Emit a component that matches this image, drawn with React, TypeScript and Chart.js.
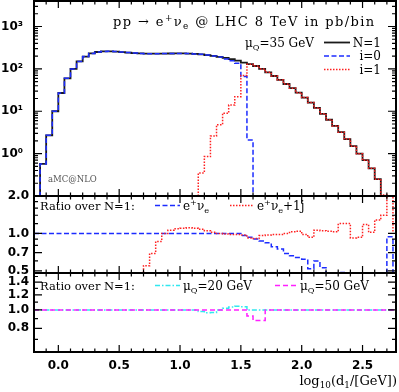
import React, { useEffect, useRef } from 'react';
import { Chart, registerables } from 'chart.js';

Chart.register(...registerables);

// ---------- data ----------
const binEdges = [
  -0.2, -0.15, -0.1, -0.05, 0.0, 0.05, 0.1, 0.15, 0.2, 0.25,
  0.3, 0.35, 0.4, 0.45, 0.5, 0.55, 0.6, 0.65, 0.7, 0.75,
  0.8, 0.85, 0.9, 0.95, 1.0, 1.05, 1.1, 1.15, 1.2, 1.25,
  1.3, 1.35, 1.4, 1.45, 1.5, 1.55, 1.6, 1.65, 1.7, 1.75,
  1.8, 1.85, 1.9, 1.95, 2.0, 2.05, 2.1, 2.15, 2.2, 2.25,
  2.3, 2.35, 2.4, 2.45, 2.5, 2.55, 2.6, 2.65, 2.7, 2.75, 2.8,
];

// top panel (pb/bin)
const nOne = [
  null, 0.57, 2.7, 10, 27, 60, 100, 150, 195, 232,
  250, 258, 260, 256, 249, 242, 236, 232, 229, 228,
  229, 230, 231, 232, 232, 230, 226, 220, 212, 202,
  192, 181, 170, 157, 140, 130, 117, 100, 83, 68,
  55, 44, 35, 27.5, 21, 16, 12, 8.7, 6.3, 4.5,
  3.2, 2.2, 1.5, 1.0, 0.7, 0.45, 0.25, null, null, null,
];
const iZero = [
  null, 0.57, 2.7, 10, 27, 60, 100, 150, 195, 232,
  250, 258, 260, 256, 249, 242, 236, 232, 229, 228,
  229, 230, 231, 232, 232, 230, 226, 220, 212, 202,
  192, 172, 156, 135, 66, 2.1, null, null, null, null,
  null, null, null, null, null, null, null, null, null, null,
  null, null, null, null, null, null, null, null, null, null,
];
const iOne = [
  null, null, null, null, null, null, null, null, null, null,
  null, null, null, null, null, null, null, null, null, null,
  null, null, null, null, null, null, null, 0.35, 0.85, 2.6,
  4.8, 9, 14, 22, 70, 128, 117, 100, 83, 68,
  55, 44, 35, 27.5, 21, 16, 12, 8.7, 6.3, 4.5,
  3.2, 2.2, 1.5, 1.0, 0.7, 0.45, 0.25, 0.105, 0.102, null,
];

// middle panel (ratio over N=1)
const ratioEnu = [
  1, 1, 1, 1, 1, 1, 1, 1, 1, 1,
  1, 1, 1, 1, 1, 1, 1, 1, 1, 1,
  1, 1, 1, 1, 1, 1, 1, 1, 1, 1,
  1, 1, 1, 1, 0.96, 0.93, 0.9, 0.87, 0.84, 0.78,
  0.75, 0.69, 0.66, 0.64, 0.62, 0.52, 0.6, 0.53, null, null,
  0.485, null, null, null, null, null, null, null, 0.94, null,
];
const ratioEnu1j = [
  null, null, null, null, null, null, null, null, null, null,
  null, null, null, null, null, null, null, null, 0.55, 0.69,
  0.86, 1.0, 1.06, 1.09, 1.1, 1.11, 1.1, 1.08, 1.05, 1.02,
  1.0, 0.99, 0.98, 0.98, 0.97, 0.92, 0.91, 0.96, 0.97, 0.98,
  0.98, 1.0, 1.03, 1.04, 0.98, 0.93, 1.06, 1.05, 1.04, 1.03,
  1.2, 1.2, 0.92, 0.93, 1.18, 1.02, 1.28, 1.4, 2.05, 1.05,
];

// bottom panel (ratio over N=1)
const ratioMu20 = [
  1, 1, 1, 1, 1, 1, 1, 1, 1, 1,
  1, 1, 1, 1, 1, 1, 1, 1, 1, 1,
  1, 1, 1, 1, 1, 1, 1, 0.98, 0.965, 0.97,
  1.0, 1.02, 1.035, 1.045, 1.04, 1, 1, 1, 1, 1,
  1, 1, 1, 1, 1, 1, 1, 1, 1, 1,
  1, 1, 1, 1, 1, 1, 1, 1, 1, 1,
];
const ratioMu50 = [
  1, 1, 1, 1, 1, 1, 1, 1, 1, 1,
  1, 1, 1, 1, 1, 1, 1, 1, 1, 1,
  1, 1, 1, 1, 1, 1, 1, 1, 1, 1,
  1, 1, 1, 1, 1, 0.93, 0.88, 0.88, 1, 1,
  1, 1, 1, 1, 1, 1, 1, 1, 1, 1,
  1, 1, 1, 1, 1, 1, 1, 1, 1, 1,
];

// ticks
const xTickValues = [0, 0.5, 1, 1.5, 2, 2.5];
const xMinorTicks = [-0.1, 0.1, 0.2, 0.3, 0.4, 0.6, 0.7, 0.8, 0.9, 1.1, 1.2, 1.3, 1.4, 1.6, 1.7, 1.8, 1.9, 2.1, 2.2, 2.3, 2.4, 2.6, 2.7];
const topTickValues = [1, 10, 100, 1000];
const topTickLabels = ['10\u2070', '10\u00B9', '10\u00B2', '10\u00B3'];
const topMinorTicks = [0.2, 0.3, 0.4, 0.5, 0.6, 0.7, 0.8, 0.9, 2, 3, 4, 5, 6, 7, 8, 9, 20, 30, 40, 50, 60, 70, 80, 90, 200, 300, 400, 500, 600, 700, 800, 900, 2000, 3000];
const midTickValues = [0.5, 0.7, 1.0, 2.0];
const midTickLabels = ['0.5', '0.7', '1.0', '2.0'];
const midMinorTicks = [0.6, 0.8, 0.9, 1.2, 1.4, 1.6, 1.8];
const botTickValues = [0.8, 1.0, 1.2, 1.4];
const botTickLabels = ['0.8', '1.0', '1.2', '1.4'];
const botMinorTicks = [0.7, 0.9, 1.1, 1.3, 1.5];

// text
type Seg = [string, number];
const titleText: Seg[] = [['pp \u2192 e', 0], ['+', 1], ['\u03BD', 0], ['e', -1], [' @ LHC 8 TeV in pb/bin', 0]];
const muTopText: Seg[] = [['\u03BC', 0], ['Q', -1], ['=35 GeV', 0]];
const topLegendLabels = ['N=1', 'i=0', 'i=1'];
const ratioLabel = 'Ratio over N=1:';
const enuText: Seg[] = [['e', 0], ['+', 1], ['\u03BD', 0], ['e', -1]];
const enu1jText: Seg[] = [['e', 0], ['+', 1], ['\u03BD', 0], ['e', -1], ['+1j', 0]];
const mu20Text: Seg[] = [['\u03BC', 0], ['Q', -1], ['=20 GeV', 0]];
const mu50Text: Seg[] = [['\u03BC', 0], ['Q', -1], ['=50 GeV', 0]];
const xTitleText: Seg[] = [['log', 0], ['10', -1], ['(d', 0], ['1', -1], ['/[GeV])', 0]];
const generatorText = 'aMC@NLO';

// ---------- helpers ----------
function steps(values: (number | null)[], floor: number) {
  const pts: { x: number; y: number }[] = [];
  for (let i = 0; i < values.length; i++) {
    const v = values[i] == null ? floor : (values[i] as number);
    pts.push({ x: binEdges[i], y: v }, { x: binEdges[i + 1], y: v });
  }
  return pts;
}

const SERIF = '"DejaVu Serif", serif';
const SANS = '"DejaVu Sans", sans-serif';

function drawRich(ctx: CanvasRenderingContext2D, segs: Seg[], x: number, y: number, size: number,
  align: 'left' | 'right' = 'left', spacing = 0, color = '#000') {
  ctx.save();
  (ctx as any).letterSpacing = spacing + 'px';
  const fontFor = (m: number) => `${m === 0 ? size : size * 0.68}px ${SERIF}`;
  let w = 0;
  for (const [t, m] of segs) { ctx.font = fontFor(m); w += ctx.measureText(t).width; }
  let cx = align === 'right' ? x - w : x;
  ctx.textAlign = 'left';
  ctx.textBaseline = 'alphabetic';
  ctx.fillStyle = color;
  for (const [t, m] of segs) {
    ctx.font = fontFor(m);
    const dy = m === 1 ? -size * 0.42 : m === -1 ? size * 0.25 : 0;
    ctx.fillText(t, cx, y + dy);
    cx += ctx.measureText(t).width;
  }
  ctx.restore();
}

function sample(ctx: CanvasRenderingContext2D, ds: any, x1: number, x2: number, y: number) {
  ctx.save();
  ctx.strokeStyle = ds.borderColor;
  ctx.lineWidth = ds.borderWidth;
  ctx.setLineDash(ds.borderDash || []);
  ctx.beginPath();
  ctx.moveTo(x1, y);
  ctx.lineTo(x2, y);
  ctx.stroke();
  ctx.restore();
}

const panelTicks: Record<string, { major: number[]; minor: number[] }> = {
  yTop: { major: topTickValues, minor: topMinorTicks },
  yMid: { major: midTickValues, minor: midMinorTicks },
  yBot: { major: botTickValues, minor: botMinorTicks },
};

const framePlugin = {
  id: 'frames',
  afterDatasetsDraw(chart: any) {
    const ctx: CanvasRenderingContext2D = chart.ctx;
    const { left: L, right: R } = chart.chartArea;
    const xs = chart.scales.x;
    ctx.save();
    ctx.strokeStyle = '#000';
    ctx.setLineDash([]);
    for (const id of ['yTop', 'yMid', 'yBot']) {
      const s = chart.scales[id];
      const T = s.top, B = s.bottom;
      ctx.lineWidth = 1.2;
      ctx.beginPath();
      for (const v of xTickValues) {
        const p = xs.getPixelForValue(v);
        ctx.moveTo(p, B); ctx.lineTo(p, B - 7);
        ctx.moveTo(p, T); ctx.lineTo(p, T + 7);
      }
      for (const v of xMinorTicks) {
        const p = xs.getPixelForValue(v);
        ctx.moveTo(p, B); ctx.lineTo(p, B - 3.5);
        ctx.moveTo(p, T); ctx.lineTo(p, T + 3.5);
      }
      for (const v of panelTicks[id].major) {
        const p = s.getPixelForValue(v);
        ctx.moveTo(L, p); ctx.lineTo(L + 8, p);
        ctx.moveTo(R, p); ctx.lineTo(R - 8, p);
      }
      for (const v of panelTicks[id].minor) {
        const p = s.getPixelForValue(v);
        ctx.moveTo(L, p); ctx.lineTo(L + 4, p);
        ctx.moveTo(R, p); ctx.lineTo(R - 4, p);
      }
      ctx.stroke();
      ctx.lineWidth = 2;
      ctx.strokeRect(L, T, R - L, B - T);
    }
    ctx.restore();
  },
  afterDraw(chart: any) {
    const ctx: CanvasRenderingContext2D = chart.ctx;
    const ds = chart.data.datasets;
    drawRich(ctx, titleText, 113, 26, 13, 'left', 1.4);
    drawRich(ctx, muTopText, 245, 46.5, 12);
    const legY = [42.5, 56, 69.5];
    for (let i = 0; i < 3; i++) {
      sample(ctx, ds[i], 324, 350, legY[i]);
      drawRich(ctx, [[topLegendLabels[i], 0]], 381, legY[i] + 4, 12, 'right');
    }
    drawRich(ctx, [[generatorText, 0]], 48, 182, 8.5, 'left', 0, '#555');
    // middle legend
    drawRich(ctx, [[ratioLabel, 0]], 40, 210, 11.5);
    sample(ctx, ds[3], 155, 180, 205.5);
    drawRich(ctx, enuText, 183, 210, 12);
    sample(ctx, ds[4], 230, 254, 205.5);
    drawRich(ctx, enu1jText, 257, 210, 12);
    // bottom legend
    drawRich(ctx, [[ratioLabel, 0]], 40, 290, 11.5);
    sample(ctx, ds[5], 155, 180, 285.5);
    drawRich(ctx, mu20Text, 183, 290, 12);
    sample(ctx, ds[6], 275, 298, 285.5);
    drawRich(ctx, mu50Text, 300, 290, 12);
    // x title
    drawRich(ctx, xTitleText, 397, 385, 13, 'right');
  },
};

function zeroPad(s: any) {
  s.paddingTop = 0; s.paddingBottom = 0; s.paddingLeft = 0; s.paddingRight = 0;
}

const tickFont = { family: SANS, size: 12, weight: 'bold' as const };

function yAxis(weight: number, stackWeight: number, min: number, max: number, values: number[], labels: string[], padding: number) {
  return {
    type: 'logarithmic' as const,
    position: 'left' as const,
    stack: 'panels',
    stackWeight,
    weight,
    min,
    max,
    grid: { display: false, drawTicks: false },
    border: { display: false },
    afterBuildTicks: (s: any) => { s.ticks = values.map((v) => ({ value: v, major: false })); },
    afterFit: (s: any) => { s.width = 34; zeroPad(s); },
    ticks: {
      callback: (_v: any, i: number) => labels[i],
      font: tickFont,
      color: '#000',
      padding,
      autoSkip: false,
    },
  };
}

export default function App() {
  const ref = useRef<HTMLCanvasElement | null>(null);
  useEffect(() => {
    if (!ref.current) return;
    const chart = new Chart(ref.current, {
      type: 'line',
      data: {
        datasets: [
          { label: 'N=1', data: steps(nOne, 1e-3), yAxisID: 'yTop', borderColor: '#1a1a1a', borderWidth: 1.8, order: 3 },
          { label: 'i=0', data: steps(iZero, 1e-3), yAxisID: 'yTop', borderColor: '#1c2cff', borderWidth: 1.5, borderDash: [5, 2.5], order: 2 },
          { label: 'i=1', data: steps(iOne, 1e-3), yAxisID: 'yTop', borderColor: '#ff2020', borderWidth: 1.5, borderDash: [1.5, 1.5], order: 1 },
          { label: 'e+ve', data: steps(ratioEnu, 0.3), yAxisID: 'yMid', borderColor: '#1c2cff', borderWidth: 1.5, borderDash: [5, 2.5], order: 2 },
          { label: 'e+ve+1j', data: steps(ratioEnu1j, 0.3), yAxisID: 'yMid', borderColor: '#ff2020', borderWidth: 1.5, borderDash: [1.5, 1.5], order: 1 },
          { label: 'muQ=20 GeV', data: steps(ratioMu20, 0.3), yAxisID: 'yBot', borderColor: '#30e8f0', borderWidth: 1.5, borderDash: [5, 2, 1.5, 2], order: 2 },
          { label: 'muQ=50 GeV', data: steps(ratioMu50, 0.3), yAxisID: 'yBot', borderColor: '#ff20ff', borderWidth: 1.5, borderDash: [5, 3], order: 1 },
        ].map((d) => ({ ...d, pointRadius: 0, fill: false, tension: 0, clip: 0, borderJoinStyle: 'miter' as const })),
      },
      options: {
        responsive: false,
        maintainAspectRatio: false,
        devicePixelRatio: 1,
        animation: false,
        layout: { autoPadding: false, padding: { top: 1, right: 3, left: 0, bottom: 0 } },
        plugins: { legend: { display: false }, tooltip: { enabled: false } },
        scales: {
          x: {
            type: 'linear',
            position: 'bottom',
            min: -0.2,
            max: 2.775,
            grid: { display: false, drawTicks: false },
            border: { display: false },
            afterBuildTicks: (s: any) => { s.ticks = xTickValues.map((v) => ({ value: v })); },
            afterFit: (s: any) => { s.height = 40; zeroPad(s); },
            ticks: {
              callback: (v: any) => Number(v).toFixed(1),
              font: tickFont,
              color: '#000',
              padding: 7,
              maxRotation: 0,
              autoSkip: false,
            },
          },
          yBot: yAxis(1, 79, 0.645, 1.565, botTickValues, botTickLabels, 5),
          yMid: yAxis(2, 77, 0.48, 2.0, midTickValues, midTickLabels, 5),
          yTop: yAxis(3, 195, 0.1, 4000, topTickValues, topTickLabels, 11),
        },
      },
      plugins: [framePlugin],
    });
    return () => chart.destroy();
  }, []);
  return (
    <div style={{ position: 'absolute', left: 0, top: 0, width: 399, height: 392, background: '#fff' }}>
      <canvas ref={ref} width={399} height={392} style={{ display: 'block' }} />
    </div>
  );
}
